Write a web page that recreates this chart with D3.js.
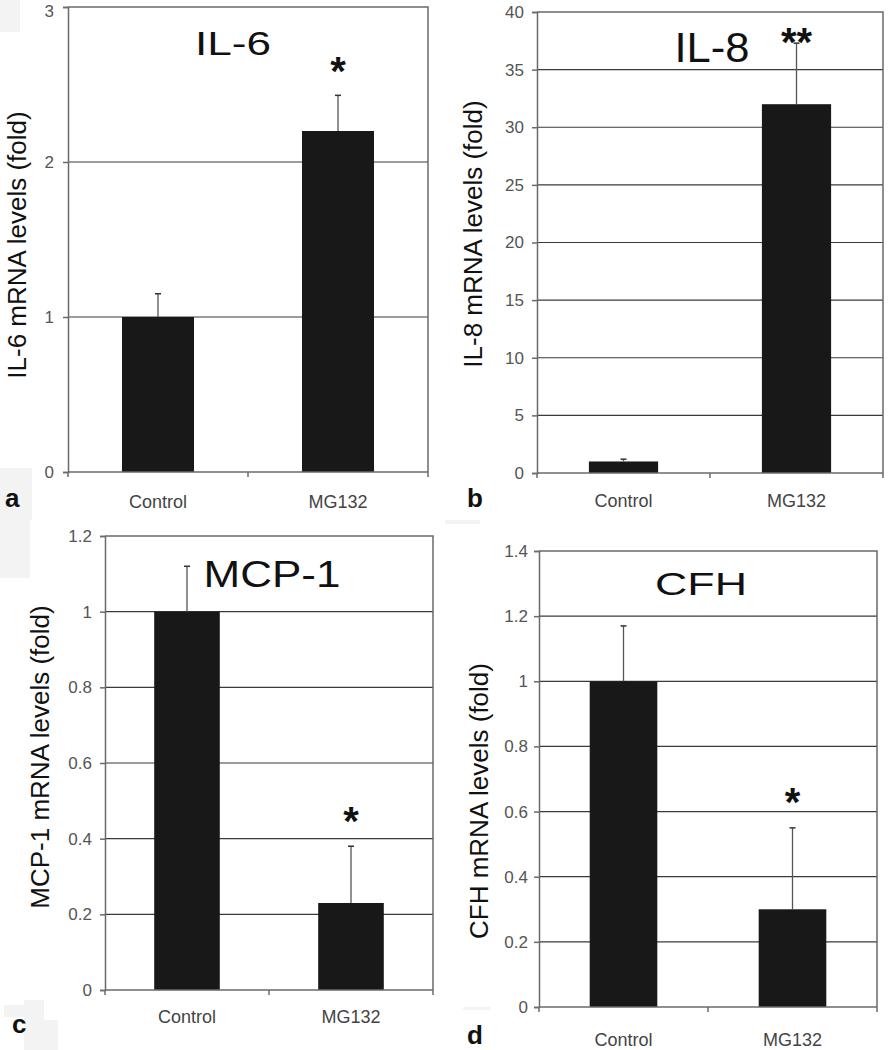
<!DOCTYPE html>
<html>
<head>
<meta charset="utf-8">
<script src="https://cdn.jsdelivr.net/npm/d3@7"></script>
<style>
  html, body { margin: 0; padding: 0; background: #fff; }
  svg { display: block; font-family: "Liberation Sans", Arial, sans-serif; }
</style>
</head>
<body>
<svg id="chart" width="891" height="1050"></svg>
<script>
// ---------- data ----------
const categories = ["Control", "MG132"];

const il6Means  = [1.0, 2.2];
const il6Errors = [0.15, 0.23];
const il6Ticks  = ["0", "1", "2", "3"];

const il8Means  = [1.0, 32.0];
const il8Errors = [0.2, 5.3];
const il8Ticks  = ["0", "5", "10", "15", "20", "25", "30", "35", "40"];

const mcp1Means  = [1.0, 0.23];
const mcp1Errors = [0.12, 0.15];
const mcp1Ticks  = ["0", "0.2", "0.4", "0.6", "0.8", "1", "1.2"];

const cfhMeans  = [1.0, 0.30];
const cfhErrors = [0.17, 0.25];
const cfhTicks  = ["0", "0.2", "0.4", "0.6", "0.8", "1", "1.2", "1.4"];

const panelTitles  = ["IL-6", "IL-8", "MCP-1", "CFH"];
const panelLetters = ["a", "b", "c", "d"];
const yLabels = ["IL-6 mRNA levels (fold)", "IL-8 mRNA levels (fold)",
                 "MCP-1 mRNA levels (fold)", "CFH mRNA levels (fold)"];
const significance = [["", "*"], ["", "**"], ["", "*"], ["", "*"]];

// ---------- layout (positions/sizes only) ----------
const layouts = [
  { l: 68,  r: 428, t: 7,   b: 472, yMax: 3,   title: {x: 233, y: 55,  fs: 34, w: 76},
    star: {fs: 40, off: 33}, letter: {x: 5, y: 507}, ylab: {x: 26, y: 245, fs: 26},
    xlabY: 508, tickGap: 14, topTickShift: 4 },
  { l: 537, r: 883, t: 12,  b: 473, yMax: 40,  title: {x: 712, y: 62,  fs: 42, w: 75},
    star: {fs: 40, off: 10}, letter: {x: 467, y: 507}, ylab: {x: 482, y: 234, fs: 26},
    xlabY: 507, tickGap: 13, topTickShift: 0 },
  { l: 105, r: 433, t: 536, b: 990, yMax: 1.2, title: {x: 272, y: 587, fs: 36, w: 137},
    star: {fs: 40, off: 34}, letter: {x: 12, y: 1033}, ylab: {x: 49, y: 757, fs: 26},
    xlabY: 1023, tickGap: 13, topTickShift: 0 },
  { l: 539, r: 877, t: 551, b: 1007, yMax: 1.4, title: {x: 701, y: 595, fs: 32, w: 92},
    star: {fs: 40, off: 34}, letter: {x: 467, y: 1044}, ylab: {x: 488, y: 801, fs: 26},
    xlabY: 1046, tickGap: 11, topTickShift: 0 }
];

const meansList  = [il6Means, il8Means, mcp1Means, cfhMeans];
const errorsList = [il6Errors, il8Errors, mcp1Errors, cfhErrors];
const ticksList  = [il6Ticks, il8Ticks, mcp1Ticks, cfhTicks];

const svg = d3.select("#chart");

// faint scan artefacts in the margins
const artefacts = [[0,0,20,32],[0,468,32,52],[0,520,30,58],[4,1005,38,12],[24,1000,20,50],[40,1020,18,30],[445,520,35,4],[463,1007,27,3]];
svg.selectAll("rect.art").data(artefacts).join("rect")
  .attr("x", d => d[0]).attr("y", d => d[1]).attr("width", d => d[2]).attr("height", d => d[3])
  .attr("fill", "#f3f3f3");

layouts.forEach((L, i) => {
  const means = meansList[i], errs = errorsList[i];
  const tickVals = ticksList[i].map(Number);
  const g = svg.append("g");

  const x = d3.scaleBand().domain(categories).range([L.l, L.r]).paddingInner(0.6).paddingOuter(0.3);
  const xOuter = d3.scaleBand().domain(categories).range([L.l, L.r]);
  const y = d3.scaleLinear().domain([0, L.yMax]).range([L.b, L.t]);

  // gridlines
  g.selectAll("line.grid").data(tickVals.filter(v => v > 0 && v < L.yMax)).join("line")
    .attr("x1", L.l).attr("x2", L.r)
    .attr("y1", d => y(d)).attr("y2", d => y(d))
    .attr("stroke", "#3a3a3a").attr("stroke-width", 1.2);

  // frame (top/right)
  g.append("path")
    .attr("d", `M${L.l},${L.t}H${L.r}V${L.b}`)
    .attr("fill", "none").attr("stroke", "#6a6a6a").attr("stroke-width", 1.5);

  // bars
  g.selectAll("rect.bar").data(categories).join("rect")
    .attr("x", d => x(d)).attr("width", x.bandwidth())
    .attr("y", (d, j) => y(means[j]))
    .attr("height", (d, j) => y(0) - y(means[j]))
    .attr("fill", "#181818");

  // error bars (upper only)
  categories.forEach((c, j) => {
    const cx = x(c) + x.bandwidth() / 2;
    g.append("line").attr("x1", cx).attr("x2", cx)
      .attr("y1", y(means[j])).attr("y2", y(means[j] + errs[j]))
      .attr("stroke", "#555").attr("stroke-width", 1.3);
    g.append("line").attr("x1", cx - 3).attr("x2", cx + 3)
      .attr("y1", y(means[j] + errs[j])).attr("y2", y(means[j] + errs[j]))
      .attr("stroke", "#333").attr("stroke-width", 1.5);
  });

  // y axis
  const yAxis = d3.axisLeft(y).tickValues(tickVals).tickFormat((d, k) => ticksList[i][k])
    .tickSize(5).tickPadding(L.tickGap - 5);
  const ya = g.append("g").attr("transform", `translate(${L.l},0)`).call(yAxis);
  ya.select(".domain").attr("stroke", "#6a6a6a").attr("stroke-width", 1.5);
  ya.selectAll(".tick line").attr("stroke", "#6a6a6a").attr("stroke-width", 1.5);
  ya.selectAll(".tick text").attr("fill", "#555").attr("font-size", 17)
    .attr("font-family", "Liberation Sans, Arial, sans-serif")
    .attr("y", d => d === L.yMax ? L.topTickShift : 0);

  // x axis
  const xa = g.append("g").attr("transform", `translate(0,${L.b})`);
  xa.append("line").attr("x1", L.l).attr("x2", L.r).attr("stroke", "#6a6a6a").attr("stroke-width", 1.5);
  const bounds = [L.l, xOuter("MG132"), L.r];
  xa.selectAll("line.xt").data(bounds).join("line")
    .attr("x1", d => d).attr("x2", d => d).attr("y1", 0).attr("y2", 5)
    .attr("stroke", "#6a6a6a").attr("stroke-width", 1.5);
  g.selectAll("text.xl").data(categories).join("text")
    .attr("x", d => xOuter(d) + xOuter.bandwidth() / 2).attr("y", L.xlabY)
    .attr("text-anchor", "middle").attr("font-size", 18).attr("fill", "#444")
    .text(d => d);

  // title
  g.append("text").attr("x", L.title.x).attr("y", L.title.y)
    .attr("text-anchor", "middle").attr("font-size", L.title.fs).attr("fill", "#111")
    .attr("textLength", L.title.w).attr("lengthAdjust", "spacingAndGlyphs")
    .text(panelTitles[i]);

  // significance stars
  categories.forEach((c, j) => {
    if (!significance[i][j]) return;
    const cx = x(c) + x.bandwidth() / 2;
    const cy = y(means[j] + errs[j]) - L.star.off;
    g.append("text").attr("x", cx).attr("y", cy + 0.56 * L.star.fs)
      .attr("text-anchor", "middle").attr("font-size", L.star.fs).attr("font-weight", "bold")
      .attr("fill", "#111").text(significance[i][j]);
  });

  // y label
  g.append("text")
    .attr("transform", `translate(${L.ylab.x},${L.ylab.y}) rotate(-90)`)
    .attr("text-anchor", "middle").attr("font-size", L.ylab.fs).attr("fill", "#111")
    .text(yLabels[i]);

  // panel letter
  g.append("text").attr("x", L.letter.x).attr("y", L.letter.y)
    .attr("font-size", 26).attr("font-weight", "bold").attr("fill", "#111")
    .text(panelLetters[i]);
});
</script>
</body>
</html>
